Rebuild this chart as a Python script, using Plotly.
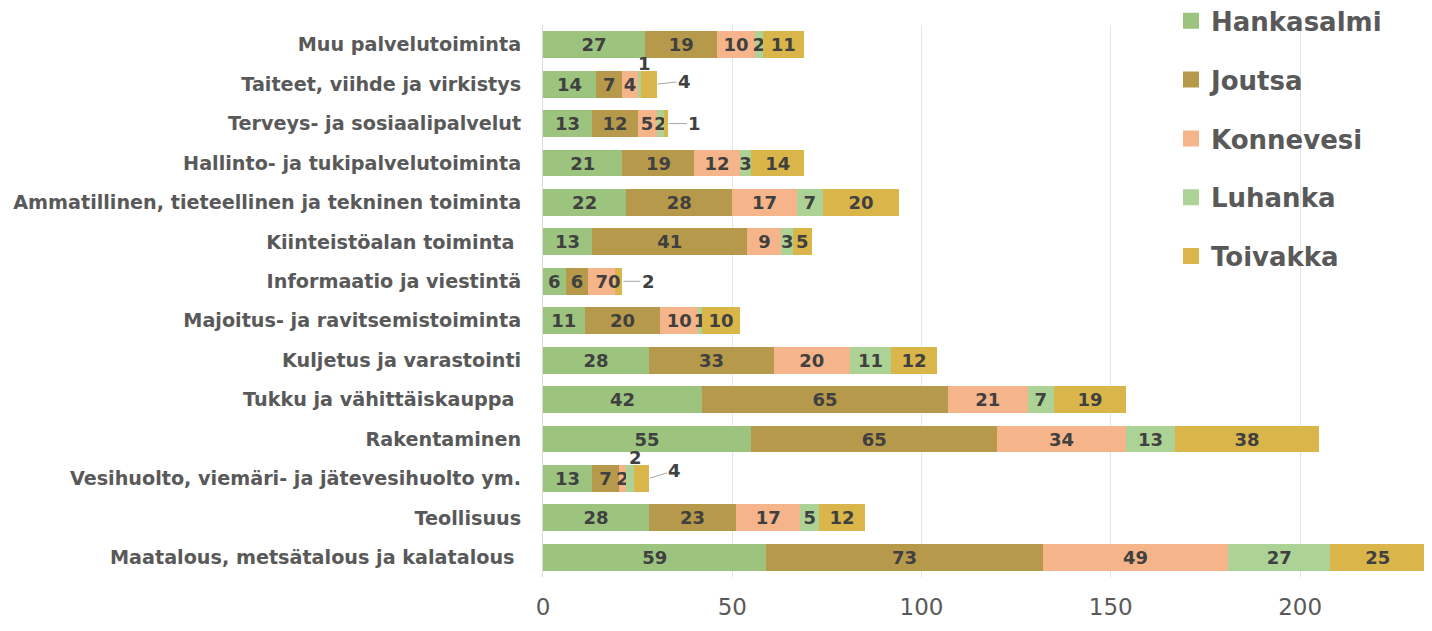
import plotly.graph_objects as go

categories = [
    "Maatalous, metsätalous ja kalatalous\u00a0",
    "Teollisuus",
    "Vesihuolto, viemäri- ja jätevesihuolto ym.",
    "Rakentaminen",
    "Tukku ja vähittäiskauppa\u00a0",
    "Kuljetus ja varastointi",
    "Majoitus- ja ravitsemistoiminta",
    "Informaatio ja viestintä",
    "Kiinteistöalan toiminta\u00a0",
    "Ammatillinen, tieteellinen ja tekninen toiminta",
    "Hallinto- ja tukipalvelutoiminta",
    "Terveys- ja sosiaalipalvelut",
    "Taiteet, viihde ja virkistys",
    "Muu palvelutoiminta",
]
series_names = ["Hankasalmi", "Joutsa", "Konnevesi", "Luhanka", "Toivakka"]
hankasalmi = [59, 28, 13, 55, 42, 28, 11, 6, 13, 22, 21, 13, 14, 27]
joutsa = [73, 23, 7, 65, 65, 33, 20, 6, 41, 28, 19, 12, 7, 19]
konnevesi = [49, 17, 2, 34, 21, 20, 10, 7, 9, 17, 12, 5, 4, 10]
luhanka = [27, 5, 2, 13, 7, 11, 1, 0, 3, 7, 3, 2, 1, 2]
toivakka = [25, 12, 4, 38, 19, 12, 10, 2, 5, 20, 14, 1, 4, 11]
x_ticks = [0, 50, 100, 150, 200]

values = [hankasalmi, joutsa, konnevesi, luhanka, toivakka]
colors = ["#9CC47E", "#B6994B", "#F5B48A", "#ADD296", "#D9B54A"]

# labels drawn outside the bar: (category index, series index) -> (kind, xshift, yshift)
special = {
    (12, 3): ("above", 5, 21),
    (12, 4): ("leader", 28, -3),
    (11, 4): ("leader", 27, 0),
    (7, 3): ("at", 0, 0),
    (7, 4): ("leader", 26, 0),
    (2, 3): ("above", 5, 21),
    (2, 4): ("leader", 26, -8),
}

fig = go.Figure()
annotations = []
cum = [0] * len(categories)
for si, (name, vals, col) in enumerate(zip(series_names, values, colors)):
    texts = []
    for ci, v in enumerate(vals):
        texts.append("" if (ci, si) in special else str(v))
    fig.add_trace(go.Bar(
        y=categories, x=vals, orientation="h", name=name,
        marker=dict(color=col, line=dict(width=0)),
        text=texts, textposition="inside", insidetextanchor="middle",
        textangle=0,
        textfont=dict(family="DejaVu Sans", size=18, color="#404040", weight="bold"),
        showlegend=False, hoverinfo="x+y+name",
    ))
    for ci, v in enumerate(vals):
        if (ci, si) in special:
            kind, dx, dy = special[(ci, si)]
            start = cum[ci]
            end = cum[ci] + v
            fnt = dict(family="DejaVu Sans", size=18, color="#404040", weight="bold")
            if kind == "above":
                annotations.append(dict(x=(start + end) / 2, y=categories[ci], xref="x", yref="y",
                                        text=str(v), showarrow=False, xshift=dx, yshift=dy, font=fnt))
            elif kind == "at":
                annotations.append(dict(x=end, y=categories[ci], xref="x", yref="y",
                                        text=str(v), showarrow=False, xshift=dx, yshift=dy, font=fnt))
            else:
                annotations.append(dict(x=end, y=categories[ci], xref="x", yref="y",
                                        text=str(v), showarrow=True, arrowhead=0, arrowwidth=1,
                                        arrowcolor="#A6A6A6", ax=dx, ay=dy, font=fnt, standoff=1))
    cum = [c + v for c, v in zip(cum, vals)]

# legend entries with larger square symbols
for name, col in zip(series_names, colors):
    fig.add_trace(go.Scatter(
        x=[None], y=[None], mode="markers", name=name, legendgroup=name,
        marker=dict(symbol="square", size=19, color=col),
        showlegend=True,
    ))

fig.update_layout(
    width=1424, height=623,
    barmode="stack", bargap=0.32,
    paper_bgcolor="white", plot_bgcolor="white",
    margin=dict(l=535, r=7, t=17, b=54, autoexpand=False),
    uniformtext=dict(minsize=18, mode="show"),
    showlegend=True,
    legend=dict(
        x=0.712, xanchor="left", y=1.05, yanchor="top",
        traceorder="grouped", tracegroupgap=22,
        font=dict(family="DejaVu Sans", size=26, color="#595959", weight="bold"),
        bgcolor="rgba(0,0,0,0)",
    ),
    annotations=annotations,
    xaxis=dict(
        range=[0, 233], tickvals=x_ticks, showgrid=True, gridcolor="#E4E4E4", gridwidth=1,
        zeroline=False, showline=False, ticks="",
        tickfont=dict(family="DejaVu Sans", size=23, color="#595959"),
        ticklabelstandoff=14, automargin=False,
    ),
    yaxis=dict(
        categoryorder="array", categoryarray=categories,
        showline=True, linecolor="#D9D9D9", linewidth=1, ticks="",
        tickfont=dict(family="DejaVu Sans", size=19.2, color="#595959", weight="bold"),
        ticklabelstandoff=17, showgrid=False, automargin=False,
    ),
)

fig.write_html("out.html")
